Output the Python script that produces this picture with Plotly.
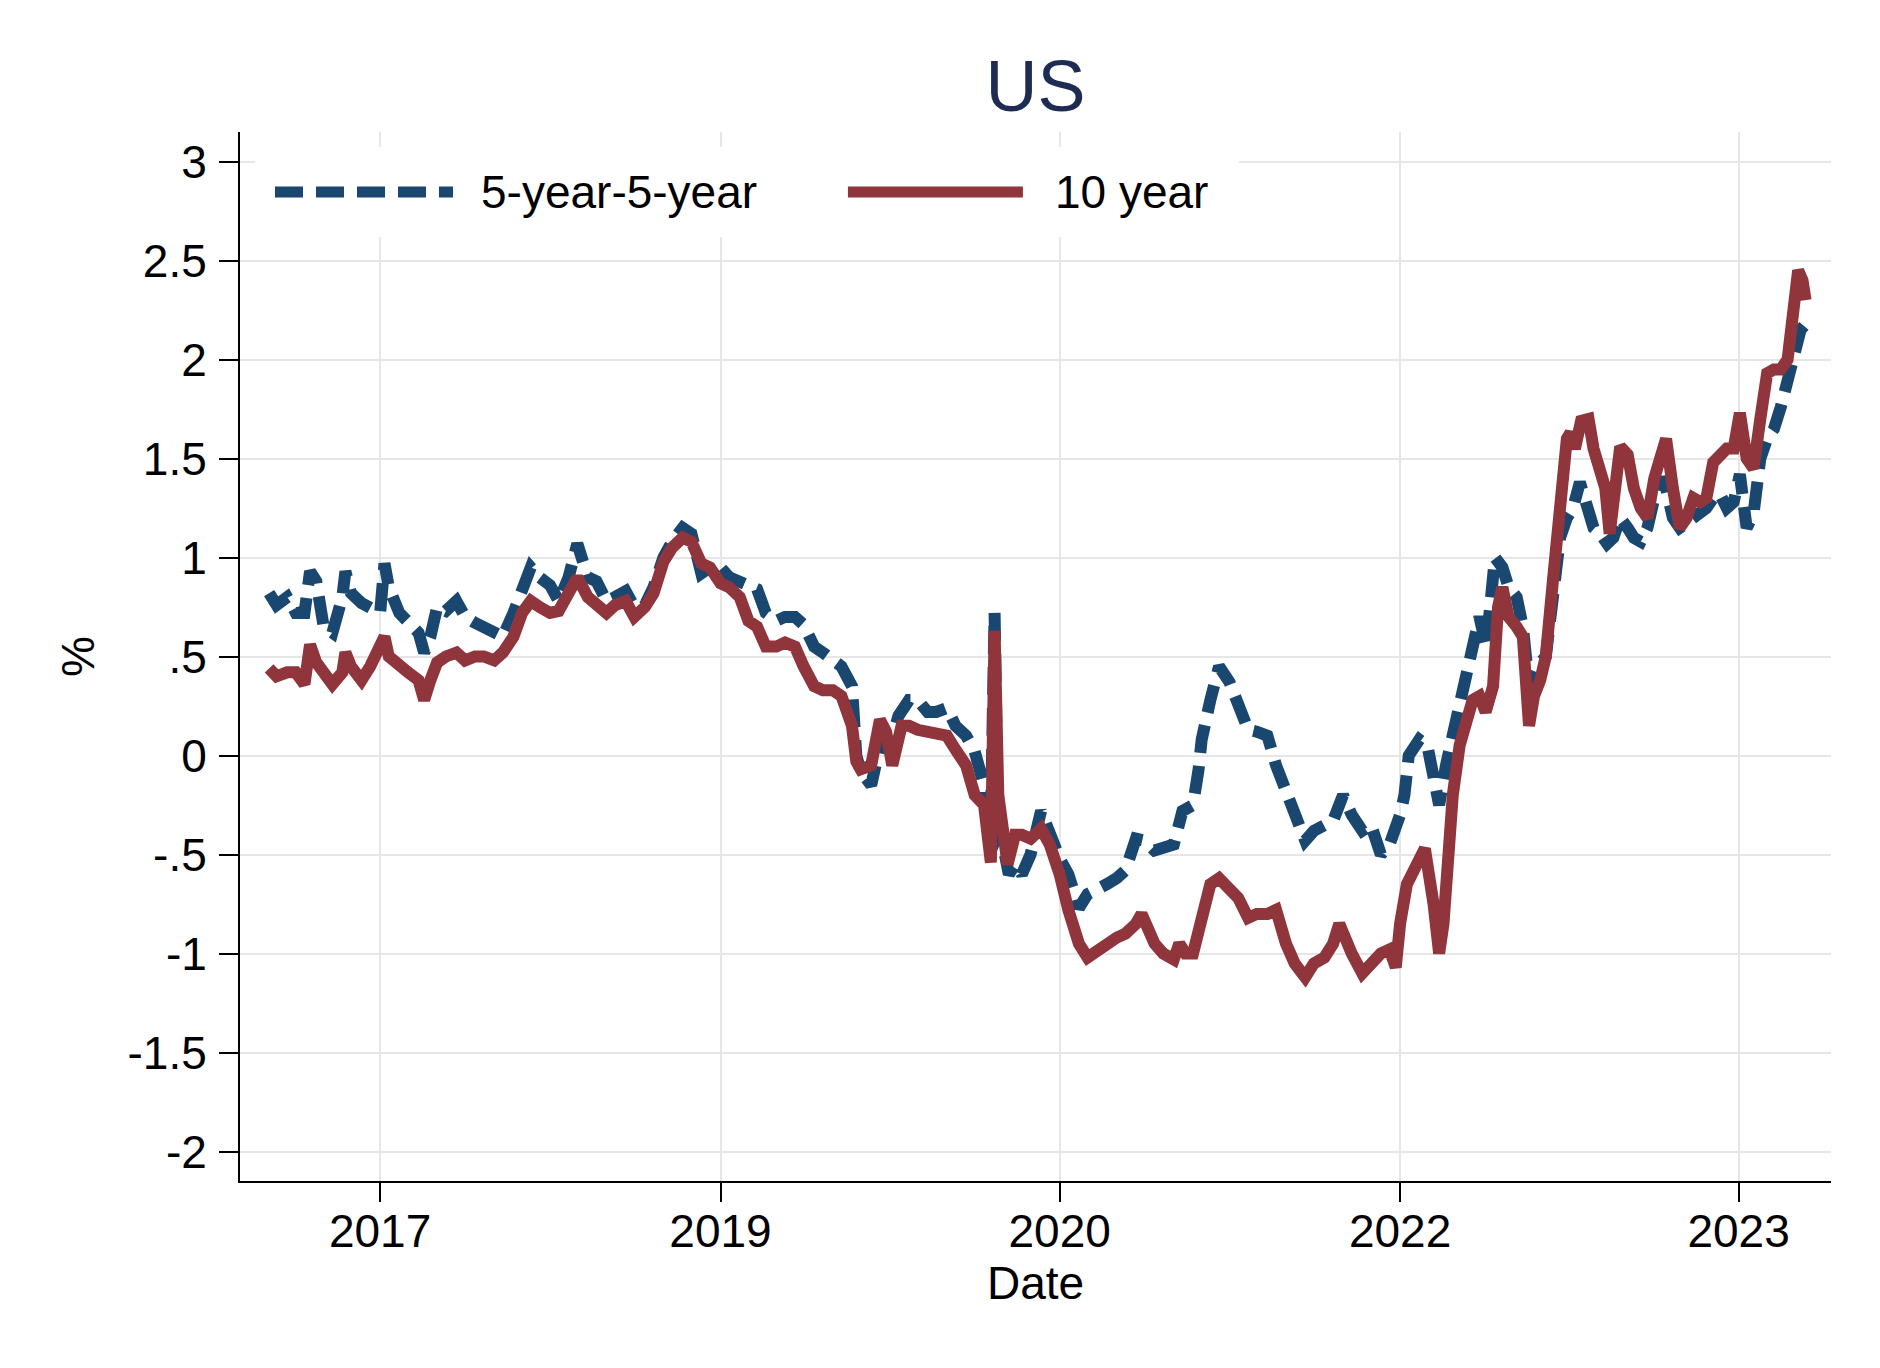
import plotly.graph_objects as go

dates_5y5y = [
    "2017-01-03", "2017-01-15", "2017-02-01", "2017-02-15", "2017-03-01", "2017-03-10", "2017-03-20",
    "2017-04-01", "2017-04-15", "2017-05-01", "2017-05-06", "2017-05-15", "2017-06-01", "2017-06-15",
    "2017-07-01", "2017-07-08", "2017-07-15", "2017-08-01", "2017-08-15", "2017-09-01", "2017-09-10",
    "2017-09-20", "2017-10-01", "2017-10-15", "2017-11-01", "2017-11-15", "2017-12-01", "2017-12-15",
    "2018-01-01", "2018-01-15", "2018-02-01", "2018-02-15", "2018-03-01", "2018-03-15", "2018-04-01",
    "2018-04-15", "2018-05-01", "2018-05-15", "2018-06-01", "2018-06-15", "2018-07-01", "2018-07-15",
    "2018-08-01", "2018-08-15", "2018-09-01", "2018-09-15", "2018-10-01", "2018-10-15", "2018-11-01",
    "2018-11-15", "2018-12-01", "2018-12-15", "2019-01-01", "2019-01-15", "2019-02-01", "2019-02-15",
    "2019-03-01", "2019-03-15", "2019-04-01", "2019-04-15", "2019-05-01", "2019-05-15", "2019-06-01",
    "2019-06-15", "2019-07-01", "2019-07-15", "2019-08-01", "2019-08-08", "2019-08-15", "2019-09-01",
    "2019-09-15", "2019-10-01", "2019-10-15", "2019-11-01", "2019-11-15", "2019-12-01", "2019-12-15",
    "2020-01-01", "2020-01-15", "2020-02-01", "2020-02-15", "2020-03-01", "2020-03-12", "2020-03-18",
    "2020-03-24", "2020-04-01", "2020-04-10", "2020-04-20", "2020-05-01", "2020-05-15", "2020-06-01",
    "2020-06-15", "2020-07-01", "2020-07-15", "2020-08-01", "2020-08-15", "2020-09-01", "2020-09-15",
    "2020-10-01", "2020-10-15", "2020-11-01", "2020-11-15", "2020-12-01", "2020-12-15", "2021-01-01",
    "2021-01-15", "2021-02-01", "2021-02-10", "2021-02-15", "2021-03-01", "2021-03-15", "2021-04-01",
    "2021-04-15", "2021-05-01", "2021-05-15", "2021-06-01", "2021-06-15", "2021-07-01", "2021-07-15",
    "2021-08-01", "2021-08-15", "2021-09-01", "2021-09-15", "2021-10-01", "2021-10-15", "2021-11-01",
    "2021-11-15", "2021-12-01", "2021-12-15", "2022-01-01", "2022-01-08", "2022-01-15", "2022-02-01",
    "2022-02-14", "2022-02-24", "2022-03-05", "2022-03-16", "2022-03-27", "2022-04-07", "2022-04-17",
    "2022-04-28", "2022-05-09", "2022-05-20", "2022-06-03", "2022-06-15", "2022-06-25", "2022-07-08",
    "2022-07-18", "2022-07-28", "2022-08-10", "2022-08-24", "2022-09-05", "2022-09-16", "2022-09-27",
    "2022-10-07", "2022-10-18", "2022-11-01", "2022-11-09", "2022-11-20", "2022-12-01", "2022-12-11",
    "2022-12-22", "2023-01-03", "2023-01-13", "2023-01-24", "2023-02-04", "2023-02-15", "2023-02-25",
    "2023-03-06", "2023-03-17", "2023-03-28", "2023-04-08", "2023-04-19", "2023-04-30", "2023-05-10",
    "2023-05-21", "2023-06-01", "2023-06-12", "2023-06-23", "2023-07-03", "2023-07-14", "2023-07-25",
    "2023-08-05", "2023-08-16", "2023-08-27", "2023-09-07", "2023-09-18", "2023-09-29", "2023-10-09",
    "2023-10-17",
]
values_5y5y = [
    0.82, 0.76, 0.80, 0.72, 0.72, 0.93, 0.88,
    0.65, 0.62, 0.80, 0.93, 0.82, 0.77, 0.74,
    0.72, 0.97, 0.85, 0.72, 0.68, 0.62, 0.52,
    0.60, 0.75, 0.73, 0.78, 0.70, 0.67, 0.65,
    0.62, 0.60, 0.72, 0.85, 0.95, 0.90, 0.86,
    0.78, 0.90, 1.07, 0.90, 0.88, 0.78, 0.80,
    0.83, 0.75, 0.76, 0.85, 1.00, 1.08, 1.15,
    1.12, 0.92, 0.95, 0.95, 0.90, 0.88, 0.86,
    0.84, 0.72, 0.68, 0.70, 0.70, 0.66, 0.55,
    0.52, 0.48, 0.45, 0.35, 0.00, -0.08, -0.15,
    0.05, 0.05, 0.20, 0.28, 0.28, 0.22, 0.22,
    0.24, 0.15, 0.10, 0.02, -0.15, -0.35, 0.72,
    -0.45, -0.46, -0.60, -0.55, -0.60, -0.50, -0.28,
    -0.40, -0.52, -0.60, -0.77, -0.70, -0.68, -0.65,
    -0.62, -0.58, -0.42, -0.43, -0.48, -0.47, -0.45,
    -0.28, -0.25, -0.07, 0.08, 0.28, 0.45, 0.37,
    0.25, 0.13, 0.12, 0.10, -0.05, -0.18, -0.30,
    -0.43, -0.38, -0.35, -0.33, -0.20, -0.30, -0.38,
    -0.35, -0.50, -0.45, -0.30, -0.20, 0.00, 0.08,
    0.05, -0.10, -0.25, -0.05, 0.10, 0.25, 0.42,
    0.55, 0.70, 0.55, 1.00, 0.95, 0.85, 0.80,
    0.65, 0.35, 0.45, 0.50, 0.85, 1.10, 1.20,
    1.25, 1.38, 1.20, 1.15, 1.12, 1.07, 1.10,
    1.20, 1.15, 1.10, 1.08, 1.15, 1.30, 1.40,
    1.35, 1.20, 1.15, 1.18, 1.20, 1.22, 1.25,
    1.30, 1.32, 1.25, 1.28, 1.42, 1.15, 1.22,
    1.50, 1.60, 1.65, 1.76, 1.90, 2.07, 2.15,
    2.18,
]

dates_10y = [
    "2017-01-03", "2017-01-15", "2017-02-01", "2017-02-15", "2017-03-01", "2017-03-10", "2017-03-20",
    "2017-04-01", "2017-04-15", "2017-05-01", "2017-05-06", "2017-05-15", "2017-06-01", "2017-06-15",
    "2017-07-01", "2017-07-08", "2017-07-15", "2017-08-01", "2017-08-15", "2017-09-01", "2017-09-10",
    "2017-09-20", "2017-10-01", "2017-10-15", "2017-11-01", "2017-11-15", "2017-12-01", "2017-12-15",
    "2018-01-01", "2018-01-15", "2018-02-01", "2018-02-15", "2018-03-01", "2018-03-15", "2018-04-01",
    "2018-04-15", "2018-05-01", "2018-05-15", "2018-06-01", "2018-06-15", "2018-07-01", "2018-07-15",
    "2018-08-01", "2018-08-15", "2018-09-01", "2018-09-15", "2018-10-01", "2018-10-15", "2018-11-01",
    "2018-11-15", "2018-12-01", "2018-12-15", "2019-01-01", "2019-01-15", "2019-02-01", "2019-02-15",
    "2019-03-01", "2019-03-15", "2019-04-01", "2019-04-15", "2019-05-01", "2019-05-15", "2019-06-01",
    "2019-06-15", "2019-07-01", "2019-07-15", "2019-08-01", "2019-08-08", "2019-08-15", "2019-09-01",
    "2019-09-15", "2019-09-25", "2019-10-05", "2019-10-20", "2019-11-01", "2019-11-15", "2019-12-01",
    "2019-12-15", "2020-01-01", "2020-01-15", "2020-02-01", "2020-02-15", "2020-03-01", "2020-03-12",
    "2020-03-18", "2020-03-24", "2020-04-01", "2020-04-08", "2020-04-20", "2020-05-01", "2020-05-15",
    "2020-06-01", "2020-06-15", "2020-07-01", "2020-07-15", "2020-08-01", "2020-08-15", "2020-09-01",
    "2020-09-15", "2020-10-01", "2020-10-15", "2020-11-01", "2020-11-10", "2020-11-20", "2020-12-01",
    "2020-12-15", "2021-01-01", "2021-01-10", "2021-01-20", "2021-02-01", "2021-02-15", "2021-03-01",
    "2021-03-15", "2021-04-01", "2021-04-15", "2021-05-01", "2021-05-15", "2021-06-01", "2021-06-15",
    "2021-07-01", "2021-07-15", "2021-08-01", "2021-08-15", "2021-09-01", "2021-09-15", "2021-09-25",
    "2021-10-05", "2021-10-15", "2021-11-01", "2021-11-15", "2021-12-01", "2021-12-15", "2021-12-25",
    "2022-01-01", "2022-01-12", "2022-01-28", "2022-02-10", "2022-02-24", "2022-03-05", "2022-03-12",
    "2022-03-20", "2022-03-27", "2022-04-07", "2022-04-17", "2022-04-28", "2022-05-09", "2022-05-19",
    "2022-05-31", "2022-06-08", "2022-06-15", "2022-06-25", "2022-07-08", "2022-07-18", "2022-07-28",
    "2022-08-05", "2022-08-15", "2022-08-24", "2022-09-05", "2022-09-16", "2022-09-27", "2022-10-03",
    "2022-10-10", "2022-10-20", "2022-11-01", "2022-11-09", "2022-11-20", "2022-11-28", "2022-12-05",
    "2022-12-15", "2022-12-22", "2023-01-03", "2023-01-13", "2023-01-24", "2023-02-04", "2023-02-15",
    "2023-02-25", "2023-03-06", "2023-03-17", "2023-03-28", "2023-04-08", "2023-04-19", "2023-04-30",
    "2023-05-10", "2023-05-21", "2023-06-01", "2023-06-12", "2023-06-23", "2023-07-03", "2023-07-14",
    "2023-07-25", "2023-08-05", "2023-08-16", "2023-08-27", "2023-09-07", "2023-09-18", "2023-09-24",
    "2023-09-29", "2023-10-05", "2023-10-12", "2023-10-17",
]
values_10y = [
    0.44, 0.40, 0.42, 0.42, 0.36, 0.56, 0.47,
    0.42, 0.36, 0.42, 0.52, 0.45, 0.38, 0.45,
    0.55, 0.60, 0.50, 0.45, 0.42, 0.38, 0.28,
    0.38, 0.47, 0.50, 0.52, 0.48, 0.50, 0.50,
    0.48, 0.52, 0.60, 0.72, 0.78, 0.75, 0.72,
    0.73, 0.82, 0.90, 0.80, 0.76, 0.72, 0.76,
    0.78, 0.70, 0.75, 0.82, 0.98, 1.05, 1.10,
    1.08, 0.97, 0.95, 0.87, 0.85, 0.80, 0.68,
    0.65, 0.55, 0.55, 0.57, 0.55, 0.45, 0.35,
    0.33, 0.33, 0.30, 0.15, -0.03, -0.07, -0.05,
    0.18, 0.12, -0.05, 0.15, 0.15, 0.13, 0.12,
    0.12, 0.10, 0.03, -0.05, -0.20, -0.25, -0.54,
    0.63, -0.20, -0.35, -0.55, -0.40, -0.40, -0.42,
    -0.37, -0.45, -0.60, -0.78, -0.95, -1.02, -0.98,
    -0.95, -0.92, -0.90, -0.85, -0.80, -0.88, -0.95,
    -1.00, -1.03, -0.95, -1.00, -1.00, -0.80, -0.65,
    -0.62, -0.68, -0.72, -0.82, -0.80, -0.80, -0.78,
    -0.95, -1.05, -1.12, -1.05, -1.02, -0.95, -0.85,
    -0.95, -1.00, -1.10, -1.05, -1.00, -0.98, -1.07,
    -0.85, -0.65, -0.55, -0.47, -0.75, -1.00, -0.85,
    -0.50, -0.20, 0.05, 0.15, 0.28, 0.30, 0.22,
    0.35, 0.75, 0.85, 0.70, 0.65, 0.60, 0.15,
    0.30, 0.38, 0.50, 0.90, 1.20, 1.60, 1.63,
    1.55, 1.69, 1.70, 1.55, 1.45, 1.35, 1.12,
    1.40, 1.56, 1.52, 1.35, 1.25, 1.20, 1.40,
    1.52, 1.60, 1.35, 1.15, 1.20, 1.30, 1.28,
    1.30, 1.48, 1.52, 1.55, 1.55, 1.73, 1.50,
    1.45, 1.70, 1.93, 1.95, 1.95, 2.00, 2.20,
    2.35, 2.45, 2.40, 2.30,
]

# axis ticks
x_tickvals = ["2017-07-01", "2019-01-01", "2020-07-01", "2022-01-01", "2023-07-01"]
x_ticktext = ["2017", "2019", "2020", "2022", "2023"]
y_tickvals = [-2, -1.5, -1, -0.5, 0, 0.5, 1, 1.5, 2, 2.5, 3]
y_ticktext = ["-2", "-1.5", "-1", "-.5", "0", ".5", "1", "1.5", "2", "2.5", "3"]

NAVY = "#1a476f"
MAROON = "#90353b"
FONT = "Liberation Sans, Arial, Helvetica, sans-serif"
DASH = "28px,13px"

fig = go.Figure()

fig.add_trace(go.Scatter(
    x=dates_5y5y, y=values_5y5y, mode="lines", name="5-year-5-year",
    line=dict(color=NAVY, width=12, dash=DASH),
))
fig.add_trace(go.Scatter(
    x=dates_10y, y=values_10y, mode="lines", name="10 year",
    line=dict(color=MAROON, width=12),
))

# legend drawn by hand (Stata-style long keys)
fig.add_shape(type="rect", xref="paper", yref="paper",
              x0=0.0094, x1=0.628, y0=0.900, y1=0.9857,
              fillcolor="white", line=dict(width=0), layer="above")
fig.add_shape(type="line", xref="paper", yref="paper",
              x0=0.022, x1=0.1339, y0=0.9428, y1=0.9428,
              line=dict(color=NAVY, width=11, dash=DASH), layer="above")
fig.add_shape(type="line", xref="paper", yref="paper",
              x0=0.3821, x1=0.4921, y0=0.9428, y1=0.9428,
              line=dict(color=MAROON, width=11), layer="above")
fig.add_annotation(text="5-year-5-year", xref="paper", yref="paper",
                   x=0.1505, y=0.9428, xanchor="left", yanchor="middle",
                   showarrow=False, font=dict(size=46, color="black", family=FONT))
fig.add_annotation(text="10 year", xref="paper", yref="paper",
                   x=0.511, y=0.9428, xanchor="left", yanchor="middle",
                   showarrow=False, font=dict(size=46, color="black", family=FONT))

# page body adds an 8px offset, so the figure is a little smaller
fig.update_layout(
    width=1864, height=1352,
    margin=dict(l=232, r=41, t=124, b=179),
    paper_bgcolor="white", plot_bgcolor="white",
    showlegend=False,
    font=dict(family=FONT, size=46, color="black"),
    title=dict(text="US", x=0.5, xref="paper", xanchor="center",
               y=1 - 78 / 1352, yref="container", yanchor="middle",
               font=dict(size=72, color="#1e2c54", family=FONT)),
)

fig.update_xaxes(
    type="date", range=["2016-11-17", "2023-11-27"],
    tickmode="array", tickvals=x_tickvals, ticktext=x_ticktext,
    ticks="outside", ticklen=19, tickwidth=2, tickcolor="black",
    ticklabelstandoff=-10,
    showline=True, linecolor="black", linewidth=2,
    showgrid=True, gridcolor="#e6e6e6", gridwidth=2, zeroline=False,
    tickfont=dict(size=46, color="black"),
    title=dict(text="Date", font=dict(size=46, color="black"), standoff=10),
)
fig.update_yaxes(
    range=[-2.149, 3.149],
    tickmode="array", tickvals=y_tickvals, ticktext=y_ticktext,
    ticks="outside", ticklen=19, tickwidth=2, tickcolor="black",
    ticklabelstandoff=3,
    showline=True, linecolor="black", linewidth=2,
    showgrid=True, gridcolor="#e6e6e6", gridwidth=2, zeroline=False,
    tickfont=dict(size=46, color="black"),
    title=dict(text="%", font=dict(size=46, color="black"), standoff=18),
)

fig.write_html("out.html")
